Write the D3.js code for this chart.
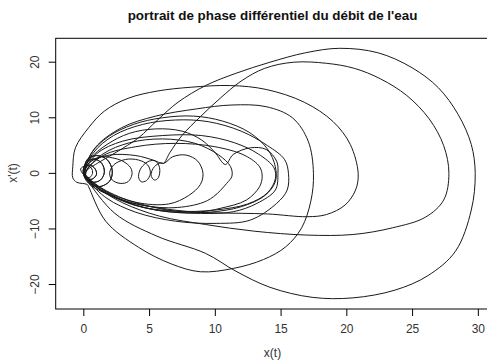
<!DOCTYPE html>
<html>
<head>
<meta charset="utf-8">
<script src="https://cdn.jsdelivr.net/npm/d3@7"></script>
<style>
  html, body { margin: 0; padding: 0; background: #fff; }
  svg { display: block; font-family: "Liberation Sans", Arial, sans-serif; }
</style>
</head>
<body>
<svg id="chart" width="487" height="361"></svg>
<script>
// Trajectoire dans le plan de phase (x(t), x'(t)), découpée en cycles successifs.
const petitCycle1 = [[0.0,0.0],[0.1,1.0],[0.5,1.5],[0.9,0.8],[1.0,-0.2],[0.7,-1.0],[0.3,-1.0],[0.05,-0.4]];
const petitCycle2 = [[0.0,0.2],[0.2,1.8],[0.8,2.6],[1.4,1.8],[1.6,0.2],[1.3,-1.2],[0.7,-1.6],[0.2,-1.0]];
const petitCycle3 = [[0.05,0.3],[0.3,2.5],[1.0,3.2],[1.8,2.5],[2.2,0.5],[2.0,-1.4],[1.2,-2.4],[0.4,-1.6]];
const petitCycle4 = [[0.0,-0.2],[-0.2,0.8],[0.2,1.4],[0.6,1.0],[0.7,0.0],[0.5,-0.7],[0.2,-0.6]];

const cycleH = [[0.2,0.2],[1.5,3.2],[4.0,4.8],[7.0,5.4],[10.0,4.8],[12.3,3.2],[13.4,1.2],[13.6,-0.5],[13.4,-2.4],[12.4,-4.8],[10.4,-6.3],[8.9,-6.9],[6.0,-6.3],[3.0,-4.8],[0.6,-1.8]];
const cycleG = [[0.1,0.2],[1.0,3.5],[3.0,5.8],[6.0,6.8],[9.0,6.8],[11.5,5.5],[13.3,3.5],[14.5,1.0],[14.6,-1.0],[14.0,-3.5],[12.5,-5.5],[10.0,-6.6],[7.0,-6.8],[4.0,-5.8],[1.5,-3.2],[0.2,-0.5]];
const cycleB = [[0.1,0.5],[0.6,2.2],[1.4,3.0],[2.2,2.8],[3.0,2.2],[3.6,1.0],[3.7,-0.2],[3.4,-1.5],[2.8,-1.8],[2.2,-1.2],[2.0,0.0],[2.3,1.5],[3.2,2.5],[4.2,2.4],[4.9,1.5],[5.1,0.0],[4.8,-1.3],[4.4,-1.5],[4.2,-0.6],[4.4,1.0],[5.0,2.2],[5.5,2.2],[5.8,1.0],[5.7,-0.8],[5.4,-1.2],[5.15,-0.3],[5.4,1.2],[5.9,1.9],[6.1,1.8],[6.6,3.8],[7.5,6.8],[8.9,10.2],[10.4,13.5],[12.0,16.6],[13.8,18.9],[16.0,20.0],[18.5,19.8],[20.6,18.9],[22.6,17.0],[24.6,14.0],[26.3,9.8],[27.4,5.0],[27.8,0.0],[27.4,-4.8],[26.0,-7.9],[23.5,-9.8],[20.5,-11.0],[17.0,-11.1],[13.0,-10.4],[9.3,-9.2],[5.8,-7.7],[3.0,-5.3],[1.1,-2.6],[0.2,-0.6]];
const cycleI = [[0.2,0.4],[1.5,3.5],[3.5,5.5],[6.0,6.2],[8.5,5.4],[10.3,3.3],[11.2,1.2],[11.3,-0.5],[10.9,-1.8],[9.9,-4.2],[8.9,-5.4],[6.5,-6.2],[3.5,-5.2],[1.0,-2.5]];
const cycleF = [[0.0,0.3],[0.5,2.6],[1.8,5.2],[3.5,7.2],[5.5,8.0],[7.5,7.6],[9.0,6.0],[10.0,3.8],[10.8,1.6],[11.4,3.4],[12.7,4.6],[13.9,4.3],[14.7,2.2],[14.8,0.0],[14.6,-3.0],[13.2,-5.4],[11.4,-6.9],[8.9,-7.2],[5.5,-6.6],[2.9,-4.8],[0.4,-1.8]];
const cycleK = [[0.1,0.4],[0.6,3.6],[1.9,6.6],[3.8,8.8],[6.0,10.0],[8.4,10.3],[10.6,9.4],[12.6,7.4],[14.0,4.4],[14.6,1.2],[14.6,-1.5],[13.8,-4.0],[12.0,-6.0],[9.5,-7.0],[6.5,-6.9],[3.8,-5.6],[1.5,-3.0],[0.3,-0.7]];
const cycleE = [[0.1,0.3],[0.8,3.8],[2.3,6.8],[4.5,8.8],[7.0,9.6],[9.5,9.3],[12.0,7.6],[14.0,5.0],[15.3,2.5],[15.6,0.0],[15.5,-3.0],[14.7,-5.4],[12.7,-8.4],[10.1,-9.0],[7.0,-8.6],[4.0,-7.0],[1.8,-4.5],[0.4,-1.3]];
const cycleJ = [[0.1,0.3],[0.5,2.0],[2.0,3.3],[4.0,3.2],[5.3,2.4],[6.1,1.8],[6.8,3.0],[7.8,3.3],[8.7,2.2],[9.1,0.0],[8.9,-2.0],[8.0,-4.0],[6.5,-5.5],[4.0,-5.2],[1.5,-2.8],[0.3,-0.6]];
const cycleD = [[0.1,0.3],[0.9,4.6],[2.9,8.2],[5.5,10.3],[8.6,11.6],[11.3,12.3],[13.9,12.0],[15.9,10.0],[17.1,5.8],[17.5,0.0],[17.3,-5.0],[16.6,-9.8],[15.4,-13.2],[13.7,-15.5],[11.4,-17.1],[8.9,-17.7],[6.7,-16.3],[4.2,-13.3],[1.7,-8.6],[0.4,-2.4]];
const cycleC = [[0.3,-2.0],[-0.5,-1.6],[-0.8,-0.8],[-0.8,1.2],[-0.6,4.6],[0.4,8.2],[1.6,11.2],[3.4,13.5],[5.6,14.8],[8.2,15.5],[11.2,15.8],[13.9,15.1],[16.8,12.8],[19.0,9.3],[20.3,5.2],[20.9,0.0],[20.7,-3.0],[19.9,-5.7],[18.5,-7.4],[17.0,-7.8],[14.0,-7.3],[10.0,-7.1],[7.0,-6.8],[4.5,-5.6],[2.2,-3.8],[0.6,-1.4]];
const cycleA = [[0.2,0.3],[1.2,2.0],[2.5,3.8],[4.2,6.4],[5.6,9.5],[7.2,12.8],[9.3,15.8],[11.6,18.0],[14.2,20.0],[16.9,21.7],[19.5,22.5],[22.4,21.7],[25.0,19.0],[27.0,15.4],[28.5,10.6],[29.5,5.2],[29.8,0.0],[29.5,-6.6],[28.3,-14.0],[26.2,-18.4],[23.7,-21.0],[20.5,-22.4],[17.4,-22.3],[14.2,-20.5],[11.6,-17.6],[9.3,-14.4],[5.6,-11.3],[2.4,-7.2],[0.3,-1.2],[0.0,0.0]];

// Ordre de parcours des cycles
const trajectoire = [petitCycle1, petitCycle3, cycleH, petitCycle2, cycleG, cycleB, petitCycle4, cycleI, cycleF, petitCycle1, cycleK, cycleE, cycleJ, petitCycle3, cycleD, cycleC, petitCycle2, cycleA];

const xTicks = [0, 5, 10, 15, 20, 25, 30];
const yTicks = [-20, -10, 0, 10, 20];

const svg = d3.select("#chart");
const plotLeft = 55.7, plotRight = 491, plotTop = 38.3, plotBottom = 309;

const x = d3.scaleLinear().domain([-2.1, 31.0]).range([plotLeft, plotRight]);
const y = d3.scaleLinear().domain([-24.4, 24.3]).range([plotBottom, plotTop]);

const points = trajectoire.flat();

const line = d3.line()
  .x(d => x(d[0]))
  .y(d => y(d[1]))
  .curve(d3.curveCatmullRom.alpha(0.5));

svg.append("path")
  .datum(points)
  .attr("d", line)
  .attr("fill", "none")
  .attr("stroke", "#1a1a1a")
  .attr("stroke-width", 1);

// cadre
svg.append("rect")
  .attr("x", plotLeft).attr("y", plotTop)
  .attr("width", plotRight - plotLeft).attr("height", plotBottom - plotTop)
  .attr("fill", "none").attr("stroke", "#000").attr("stroke-width", 1);

// axe x
const gx = svg.append("g").attr("transform", `translate(0,${plotBottom})`)
  .call(d3.axisBottom(x).tickValues(xTicks).tickSize(7).tickPadding(8).tickFormat(d3.format("d")));
gx.select(".domain").remove();
gx.selectAll("text").attr("font-size", 12).attr("fill", "#333").attr("font-family", "Liberation Sans, Arial, sans-serif");

// axe y
const gy = svg.append("g").attr("transform", `translate(${plotLeft},0)`)
  .call(d3.axisLeft(y).tickValues(yTicks).tickSize(7).tickFormat(d3.format("d")));
gy.select(".domain").remove();
gy.selectAll(".tick").attr("transform", null);
gy.selectAll(".tick line").attr("transform", d => `translate(0,${y(d)})`);
gy.selectAll("text")
  .attr("font-size", 12).attr("fill", "#333").attr("font-family", "Liberation Sans, Arial, sans-serif")
  .attr("text-anchor", "middle")
  .attr("x", 0).attr("y", 0).attr("dy", null)
  .attr("transform", d => `translate(-17,${y(d)}) rotate(-90)`);

// titres
svg.append("text")
  .attr("x", 272.5).attr("y", 19.5)
  .attr("text-anchor", "middle")
  .attr("font-size", 13.4).attr("font-weight", "bold").attr("fill", "#111")
  .text("portrait de phase différentiel du débit de l'eau");

svg.append("text")
  .attr("x", 272.5).attr("y", 357)
  .attr("text-anchor", "middle")
  .attr("font-size", 12).attr("fill", "#333")
  .text("x(t)");

svg.append("text")
  .attr("transform", "translate(17,173) rotate(-90)")
  .attr("text-anchor", "middle")
  .attr("font-size", 12).attr("fill", "#333")
  .text("x'(t)");
</script>
</body>
</html>
